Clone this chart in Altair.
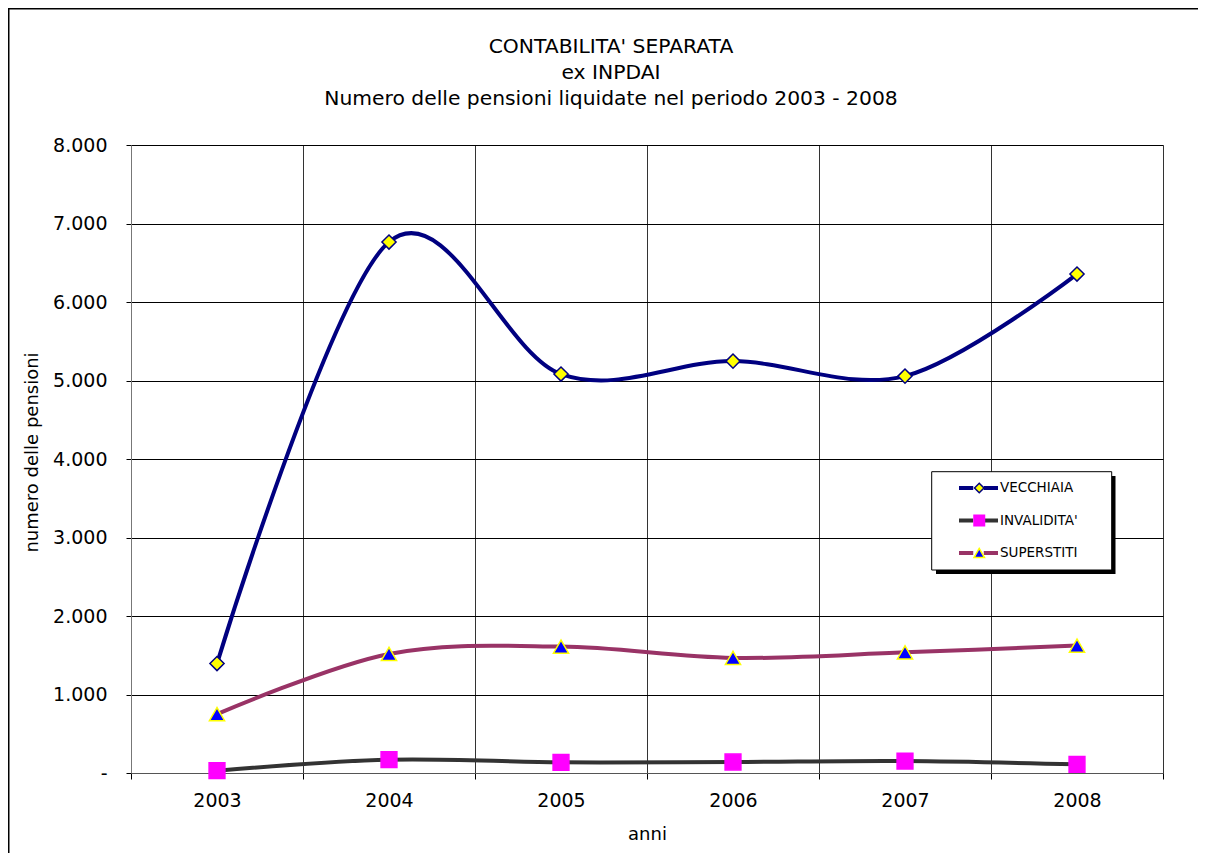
import altair as alt
import pandas as pd

# ---- data ----
years = ["2003", "2004", "2005", "2006", "2007", "2008"]
series = ["VECCHIAIA", "INVALIDITA'", "SUPERSTITI"]
vecchiaia = [1394, 6764, 5082, 5247, 5056, 6356]
invalidita = [30, 170, 136, 140, 152, 110]
superstiti = [750, 1517, 1610, 1466, 1537, 1623]
y_ticks = [0, 1000, 2000, 3000, 4000, 5000, 6000, 7000, 8000]
title_lines = [
    "CONTABILITA' SEPARATA",
    "ex INPDAI",
    "Numero delle pensioni liquidate nel periodo 2003 - 2008",
]
x_title = "anni"
y_title = "numero delle pensioni"

# ---- styles ----
line_colors = ["#000080", "#333333", "#993366"]
marker_fill = ["#FFFF00", "#FF00FF", "#0000FF"]
marker_stroke = ["#000080", "#FF00FF", "#FFFF00"]
marker_shape = ["diamond", "square", "triangle-up"]
marker_size = [200, 250, 230]
legend_marker_size = [90, 110, 110]
FONT = "DejaVu Sans"

rows = []
for s, vals in zip(series, [vecchiaia, invalidita, superstiti]):
    for yr, v in zip(years, vals):
        rows.append({"anno": yr, "serie": s, "serie_m": s, "valore": v})
df = pd.DataFrame(rows)

PW, PH = 1032, 628
PAD = {"left": 123, "top": 137, "right": 35, "bottom": 80}

x_enc = alt.X(
    "anno:O",
    scale=alt.Scale(type="band", domain=years, paddingInner=0, paddingOuter=0),
    axis=alt.Axis(
        title=x_title,
        labelAngle=0,
        tickBand="extent",
        grid=True,
        gridColor="#333333",
        gridWidth=1,
        tickColor="#000000",
        tickSize=6,
        domainColor="#555555",
        labelFont=FONT,
        labelFontSize=19,
        labelColor="#000000",
        labelPadding=12,
        titleFont=FONT,
        titleFontSize=18,
        titleFontWeight="normal",
        titleColor="#000000",
        titleY=61,
        titleBaseline="middle",
    ),
)

y_enc = alt.Y(
    "valore:Q",
    scale=alt.Scale(domain=[0, 8000], nice=False),
    axis=alt.Axis(
        title=y_title,
        values=y_ticks,
        labelExpr="datum.value == 0 ? '-' : replace(format(datum.value, ','), ',', '.')",
        grid=True,
        gridColor="#000000",
        gridWidth=1,
        tickColor="#000000",
        tickSize=5,
        domainColor="#777777",
        labelFont=FONT,
        labelFontSize=19,
        labelColor="#000000",
        labelPadding=19,
        titleFont=FONT,
        titleFontSize=18,
        titleFontWeight="normal",
        titleColor="#000000",
        titleX=-99,
        titleY=307,
        titleAngle=270,
        titleAlign="center",
        titleBaseline="middle",
    ),
)

LEG_X, LEG_Y, ROW = 826, 333, 32.5
common_leg = dict(
    title=None,
    orient="none",
    padding=0,
    labelFont=FONT,
    labelFontSize=13.5,
    labelOffset=0,
    rowPadding=ROW - 20,
    clipHeight=20,
)

line_legend = alt.Legend(
    legendX=LEG_X,
    legendY=LEG_Y,
    labelColor="#000000",
    symbolType="M-1,0L-0.27,0M0.27,0L1,0",
    symbolSize=1521,
    symbolStrokeWidth=4,
    **common_leg,
)

base = alt.Chart(df)

lines = base.mark_line(interpolate="cardinal", strokeWidth=4).encode(
    x=x_enc,
    y=y_enc,
    color=alt.Color(
        "serie:N",
        scale=alt.Scale(domain=series, range=line_colors),
        legend=line_legend,
    ),
)

point_layers = []
for i, s in enumerate(series):
    marker_legend = alt.Legend(
        legendX=LEG_X + 15.5,
        legendY=LEG_Y + i * ROW,
        labelOpacity=0,
        symbolType=marker_shape[i],
        symbolSize=legend_marker_size[i],
        symbolStrokeColor=marker_stroke[i],
        symbolFillColor=marker_fill[i],
        symbolStrokeWidth=1.5,
        **common_leg,
    )
    point_layers.append(
        base.transform_filter(alt.datum.serie == s)
        .mark_point(
            shape=marker_shape[i],
            size=marker_size[i],
            filled=True,
            stroke=marker_stroke[i],
            strokeWidth=1.5,
            opacity=1,
        )
        .encode(
            x=alt.X("anno:O"),
            y=alt.Y("valore:Q"),
            fill=alt.Fill(
                "serie_m:N",
                scale=alt.Scale(range=[marker_fill[i]]),
                legend=marker_legend,
            ),
        )
    )

one = alt.Data(values=[{"k": 0}])

right_edge = PW + PAD["right"]
bottom_edge = PH + PAD["bottom"]
frame_top = alt.Chart(one).mark_rule(stroke="#000000", strokeWidth=1.5).encode(
    x=alt.value(-123), x2=alt.value(right_edge), y=alt.value(-136.25)
)
frame_left = alt.Chart(one).mark_rule(stroke="#000000", strokeWidth=1.5).encode(
    x=alt.value(-122.25), y=alt.value(-137), y2=alt.value(bottom_edge)
)
shadow = alt.Chart(one).mark_rect(fill="#000000", stroke=None).encode(
    x=alt.value(805), x2=alt.value(984.5), y=alt.value(331), y2=alt.value(429)
)
box = alt.Chart(one).mark_rect(fill="#FFFFFF", stroke="#000000", strokeWidth=1).encode(
    x=alt.value(800.7), x2=alt.value(980.7), y=alt.value(326.7), y2=alt.value(425)
)

chart = (
    alt.layer(frame_top, frame_left, lines, *point_layers, shadow, box)
    .resolve_scale(fill="independent")
    .resolve_legend(fill="independent")
    .properties(
        width=PW,
        height=PH,
        title=alt.TitleParams(
            text=title_lines,
            font=FONT,
            fontSize=20.3,
            fontWeight="normal",
            color="#000000",
            anchor="middle",
            dx=-36,
            offset=-102.25,
            lineHeight=26,
        ),
        autosize=alt.AutoSizeParams(type="none"),
        padding=PAD,
    )
    .configure_view(stroke=None)
    .configure(background="#FFFFFF")
)

chart.save("out.html", embed_options={"renderer": "svg", "actions": False})
